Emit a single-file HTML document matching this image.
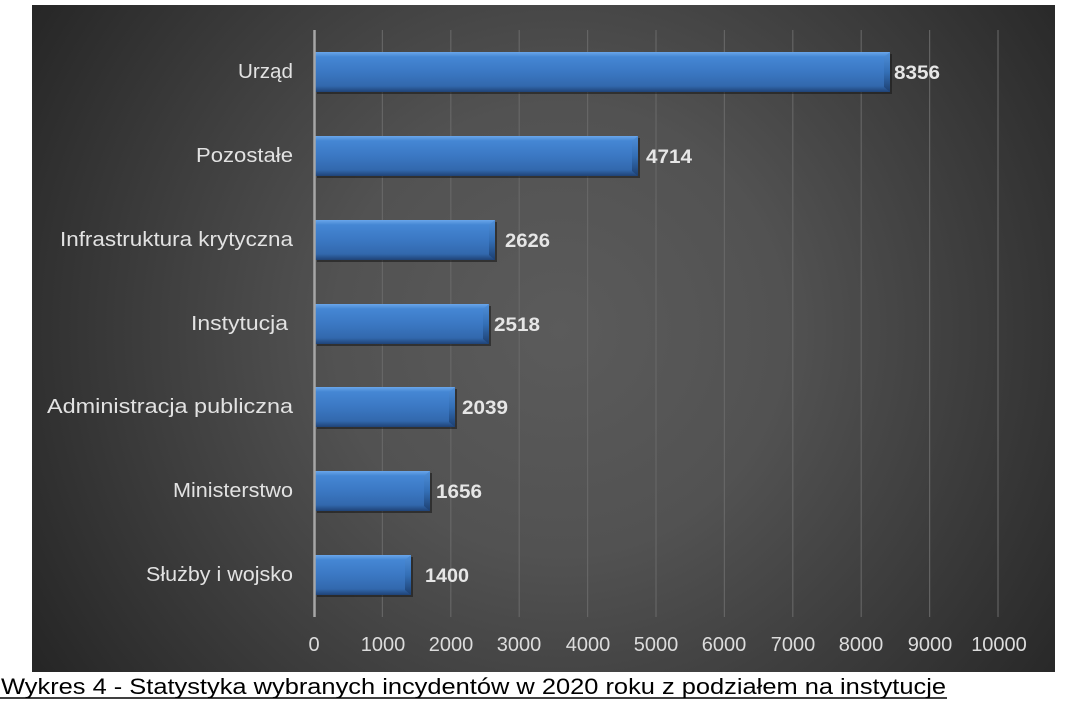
<!DOCTYPE html>
<html><head><meta charset="utf-8"><style>
html,body{margin:0;padding:0;background:#fff;}
svg{display:block;}
</style></head><body>
<svg width="1069" height="713" viewBox="0 0 1069 713" xmlns="http://www.w3.org/2000/svg">
<defs>
<radialGradient id="bg" gradientUnits="userSpaceOnUse" cx="560" cy="330" r="640">
<stop offset="0" stop-color="#5b5b5b"/>
<stop offset="0.35" stop-color="#525252"/>
<stop offset="1" stop-color="#242424"/>
</radialGradient>
<linearGradient id="bar" x1="0" y1="0" x2="0" y2="1">
<stop offset="0" stop-color="#6aa6ea"/>
<stop offset="0.12" stop-color="#4587d4"/>
<stop offset="0.5" stop-color="#3b78c3"/>
<stop offset="0.85" stop-color="#3268ad"/>
<stop offset="1" stop-color="#1f4377"/>
</linearGradient>
<linearGradient id="cap" x1="0" y1="0" x2="0" y2="1">
<stop offset="0" stop-color="#4f8fd8"/>
<stop offset="0.5" stop-color="#346fb6"/>
<stop offset="1" stop-color="#1d3f70"/>
</linearGradient>
</defs>
<rect x="32" y="5" width="1023" height="667" fill="url(#bg)"/>
<g stroke="#6a6a6a" stroke-width="1.2" opacity="0.85">
<line x1="382.4" y1="30" x2="382.4" y2="617"/>
<line x1="450.8" y1="30" x2="450.8" y2="617"/>
<line x1="519.2" y1="30" x2="519.2" y2="617"/>
<line x1="587.6" y1="30" x2="587.6" y2="617"/>
<line x1="656" y1="30" x2="656" y2="617"/>
<line x1="724.4" y1="30" x2="724.4" y2="617"/>
<line x1="792.8" y1="30" x2="792.8" y2="617"/>
<line x1="861.2" y1="30" x2="861.2" y2="617"/>
<line x1="929.6" y1="30" x2="929.6" y2="617"/>
<line x1="998" y1="30" x2="998" y2="617"/>
</g>
<g id="bars">
<g fill="#151515" opacity="0.55">
<rect x="317" y="54" width="575" height="40"/>
<rect x="317" y="138" width="323" height="40"/>
<rect x="317" y="222" width="180" height="40"/>
<rect x="317" y="306" width="174" height="40"/>
<rect x="317" y="389" width="140" height="40"/>
<rect x="317" y="473" width="115" height="40"/>
<rect x="317" y="557" width="96" height="40"/>
</g>
<g fill="url(#bar)">
<rect x="315" y="52" width="575" height="40"/>
<rect x="315" y="136" width="323" height="40"/>
<rect x="315" y="220" width="180" height="40"/>
<rect x="315" y="304" width="174" height="40"/>
<rect x="315" y="387" width="140" height="40"/>
<rect x="315" y="471" width="115" height="40"/>
<rect x="315" y="555" width="96" height="40"/>
</g>
<g fill="url(#cap)">
<polygon points="884,57 890,52 890,92 884,87"/>
<polygon points="632,141 638,136 638,176 632,171"/>
<polygon points="489,225 495,220 495,260 489,255"/>
<polygon points="483,309 489,304 489,344 483,339"/>
<polygon points="449,392 455,387 455,427 449,422"/>
<polygon points="424,476 430,471 430,511 424,506"/>
<polygon points="405,560 411,555 411,595 405,590"/>
</g>
</g>
<line x1="314.5" y1="30" x2="314.5" y2="617" stroke="#a6a6a6" stroke-width="2.5"/>
<g font-family="Liberation Sans, sans-serif" font-size="20" fill="#e2e2e2" text-anchor="end">
<text x="293" y="78" textLength="55" lengthAdjust="spacingAndGlyphs">Urząd</text>
<text x="293" y="162" textLength="97" lengthAdjust="spacingAndGlyphs">Pozostałe</text>
<text x="293" y="246" textLength="233" lengthAdjust="spacingAndGlyphs">Infrastruktura krytyczna</text>
<text x="288" y="330" textLength="97" lengthAdjust="spacingAndGlyphs">Instytucja</text>
<text x="293" y="413" textLength="246" lengthAdjust="spacingAndGlyphs">Administracja publiczna</text>
<text x="293" y="497" textLength="120" lengthAdjust="spacingAndGlyphs">Ministerstwo</text>
<text x="293" y="581" textLength="147" lengthAdjust="spacingAndGlyphs">Służby i wojsko</text>
</g>
<g font-family="Liberation Sans, sans-serif" font-size="19" font-weight="bold" fill="#e6e6e6">
<text x="894" y="79" textLength="46" lengthAdjust="spacingAndGlyphs">8356</text>
<text x="646" y="163" textLength="46" lengthAdjust="spacingAndGlyphs">4714</text>
<text x="505" y="247" textLength="45" lengthAdjust="spacingAndGlyphs">2626</text>
<text x="494" y="331" textLength="46" lengthAdjust="spacingAndGlyphs">2518</text>
<text x="462" y="414" textLength="46" lengthAdjust="spacingAndGlyphs">2039</text>
<text x="436" y="498" textLength="46" lengthAdjust="spacingAndGlyphs">1656</text>
<text x="425" y="582" textLength="44" lengthAdjust="spacingAndGlyphs">1400</text>
</g>
<g font-family="Liberation Sans, sans-serif" font-size="20" fill="#dcdcdc" text-anchor="middle">
<text x="314" y="651">0</text>
<text x="383" y="651">1000</text>
<text x="451" y="651">2000</text>
<text x="519" y="651">3000</text>
<text x="588" y="651">4000</text>
<text x="656" y="651">5000</text>
<text x="724" y="651">6000</text>
<text x="793" y="651">7000</text>
<text x="861" y="651">8000</text>
<text x="930" y="651">9000</text>
<text x="999" y="651">10000</text>
</g>
<text x="1" y="694" font-family="Liberation Sans, sans-serif" font-size="22" fill="#000" textLength="945" lengthAdjust="spacingAndGlyphs">Wykres 4 - Statystyka wybranych incydentów w 2020 roku z podziałem na instytucje</text>
<line x1="0" y1="698" x2="947" y2="698" stroke="#000" stroke-width="1.5"/>
</svg>
</body></html>
